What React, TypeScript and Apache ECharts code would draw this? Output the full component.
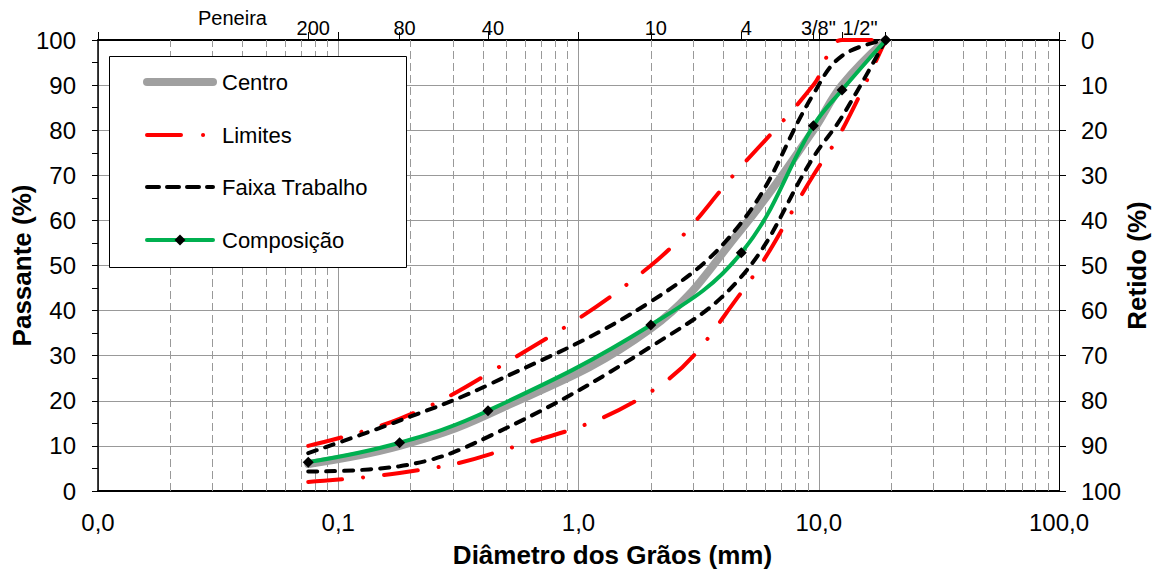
import React, { useEffect, useRef } from 'react';
import * as echarts from 'echarts';

// Sieve openings (mm) and their names on the top axis
const sieveSizes = [0.075, 0.18, 0.42, 2.0, 4.76, 9.5, 12.5, 19.0];
const sieveNames = ['200', '80', '40', '10', '4', '3/8"', '1/2"', ''];

// Passing (%) per sieve
const centro = [6, 10, 17, 36, 58, 80, 90, 100];
const limiteInferior = [2, 4, 8, 22, 44, 70, 80, 100];
const limiteSuperior = [10, 16, 26, 50, 72, 90, 100, 100];
const faixaInferior = [4.3, 5.5, 12, 32, 47.5, 74, 83, 100];
const faixaSuperior = [8.4, 15.6, 23.5, 42, 59.5, 88, 96.5, 100];
const composicao = [6.4, 10.7, 17.8, 36.8, 52.8, 81.0, 88.9, 100];

// Axis tick values
const minorGridValues = [
  0.02, 0.03, 0.04, 0.05, 0.06, 0.07, 0.08, 0.09,
  0.2, 0.3, 0.4, 0.5, 0.6, 0.7, 0.8, 0.9,
  2, 3, 4, 5, 6, 7, 8, 9,
  20, 30, 40, 50, 60, 70, 80, 90,
];
const topTickValues = [0.01, 0.075, 0.1, 0.18, 0.42, 1, 2, 4.76, 9.5, 10, 12.5, 19, 100];
const labeledSieves = sieveSizes.slice(0, 7);
const legendNames = ['Centro', 'Limites', 'Faixa Trabalho', 'Composição'];

const FONT = '"Liberation Sans", Arial, sans-serif';

const pts = (ys: number[]) => sieveSizes.map((x, i) => [x, ys[i]]);

const nearestSieve = (v: number) => {
  let best = 0;
  let bd = Infinity;
  sieveSizes.forEach((s, i) => {
    const d = Math.abs(Math.log10(s) - Math.log10(v));
    if (d < bd) {
      bd = d;
      best = i;
    }
  });
  return best;
};

export default function App() {
  const ref = useRef<HTMLDivElement>(null);

  useEffect(() => {
    if (!ref.current) return;
    const chart = echarts.init(ref.current, undefined, { renderer: 'svg' });

    const red = '#ff0000';
    const redDash = [34, 21, 0.1, 21];
    const blackDash = [9, 9];

    const option: any = {
      animation: false,
      backgroundColor: '#ffffff',
      textStyle: { fontFamily: FONT, color: '#000' },
      grid: { left: 98, right: 100, top: 40, bottom: 80, containLabel: false, outerBoundsMode: 'none' },
      xAxis: [
        {
          type: 'log',
          logBase: 10,
          min: 0.01,
          max: 100,
          position: 'bottom',
          axisLine: { lineStyle: { color: '#000', width: 2 } },
          axisTick: { show: false },
          axisLabel: {
            fontSize: 24,
            fontFamily: FONT,
            color: '#000',
            margin: 19,
            formatter: (v: number) => v.toFixed(1).replace('.', ','),
          },
          splitLine: { show: true, lineStyle: { color: '#999', width: 1, type: 'solid' } },
          name: 'Diâmetro dos Grãos (mm)',
          nameLocation: 'middle',
          nameGap: 51,
          nameMoveOverlap: false,
          nameTextStyle: {
            fontSize: 26,
            fontWeight: 'bold',
            fontFamily: FONT,
            color: '#000',
            padding: [0, 0, 0, 68],
          },
        },
        {
          type: 'log',
          logBase: 10,
          min: 0.01,
          max: 100,
          position: 'top',
          axisLine: { show: true, lineStyle: { color: '#000', width: 2 } },
          axisTick: {
            show: true,
            inside: false,
            length: 8,
            customValues: topTickValues,
            lineStyle: { color: '#000', width: 1 },
          },
          axisLabel: {
            show: true,
            customValues: labeledSieves,
            margin: 2,
            fontSize: 20,
            fontFamily: FONT,
            color: '#000',
            formatter: (v: number) => {
              const i = nearestSieve(v);
              const t = sieveNames[i];
              return i === 6 ? `{h|${t}}` : `{s|${t}}`;
            },
            rich: {
              s: { fontSize: 20, fontFamily: FONT, color: '#000', padding: [0, 0, 0, 10] },
              h: { fontSize: 20, fontFamily: FONT, color: '#000', padding: [0, 0, 0, 36] },
            },
          },
          splitLine: { show: false },
        },
      ],
      yAxis: [
        {
          type: 'value',
          min: 0,
          max: 100,
          interval: 10,
          position: 'left',
          axisLine: { show: true, lineStyle: { color: '#000', width: 1.5 } },
          axisTick: { show: true, inside: false, length: 6, lineStyle: { color: '#000' } },
          minorTick: { show: true, splitNumber: 2, length: 6, lineStyle: { color: '#000' } },
          axisLabel: { fontSize: 24, fontFamily: FONT, color: '#000', margin: 22 },
          splitLine: { show: true, lineStyle: { color: '#999', width: 1, type: 'solid' } },
          name: 'Passante (%)',
          nameLocation: 'middle',
          nameGap: 63,
          nameMoveOverlap: false,
          nameTextStyle: { fontSize: 26, fontWeight: 'bold', fontFamily: FONT, color: '#000' },
        },
        {
          type: 'value',
          min: 0,
          max: 100,
          interval: 10,
          inverse: true,
          position: 'right',
          axisLine: { show: true, lineStyle: { color: '#000', width: 1 } },
          axisTick: { show: true, inside: false, length: 7, lineStyle: { color: '#000' } },
          axisLabel: { fontSize: 24, fontFamily: FONT, color: '#000', margin: 22 },
          splitLine: { show: false },
          name: 'Retido (%)',
          nameLocation: 'middle',
          nameGap: 65,
          nameMoveOverlap: false,
          nameTextStyle: { fontSize: 26, fontWeight: 'bold', fontFamily: FONT, color: '#000' },
        },
      ],
      series: [
        {
          name: 'grade',
          type: 'line',
          data: [],
          z: 1,
          silent: true,
          markLine: {
            silent: true,
            z: 1,
            symbol: ['none', 'none'],
            label: { show: false },
            emphasis: { disabled: true },
            lineStyle: { color: '#999', width: 1, type: [8, 4] },
            data: minorGridValues.map((v) => ({ xAxis: v })),
          },
        },
        {
          name: 'Centro',
          type: 'line',
          data: pts(centro),
          smooth: 0.4,
          showSymbol: false,
          symbol: 'none',
          z: 2,
          lineStyle: { color: '#a0a0a0', width: 8, cap: 'round', join: 'round' },
        },
        {
          name: 'Limites',
          type: 'line',
          data: pts(limiteSuperior),
          smooth: 0.4,
          symbol: 'none',
          z: 3,
          lineStyle: { color: red, width: 4, type: redDash, cap: 'round' },
        },
        {
          name: 'Limites',
          type: 'line',
          data: pts(limiteInferior),
          smooth: 0.4,
          symbol: 'none',
          z: 3,
          lineStyle: { color: red, width: 4, type: redDash, cap: 'round' },
        },
        {
          name: 'Faixa Trabalho',
          type: 'line',
          data: pts(faixaSuperior),
          smooth: 0.4,
          symbol: 'none',
          z: 4,
          lineStyle: { color: '#000', width: 4, type: blackDash, cap: 'round' },
        },
        {
          name: 'Faixa Trabalho',
          type: 'line',
          data: pts(faixaInferior),
          smooth: 0.4,
          symbol: 'none',
          z: 4,
          lineStyle: { color: '#000', width: 4, type: blackDash, cap: 'round' },
        },
        {
          name: 'Composição',
          type: 'line',
          data: pts(composicao),
          smooth: 0.4,
          symbol: 'diamond',
          symbolSize: 11,
          showSymbol: true,
          z: 5,
          itemStyle: { color: '#000' },
          lineStyle: { color: '#00b050', width: 4, cap: 'round', join: 'round' },
        },
      ],
      graphic: [
        {
          type: 'text',
          x: 198,
          y: 18,
          z: 100,
          style: { text: 'Peneira', fontSize: 20, fontFamily: FONT, fill: '#000', verticalAlign: 'middle' },
        },
        {
          type: 'rect',
          z: 100,
          shape: { x: 109.5, y: 56.5, width: 297, height: 211 },
          style: { fill: '#fff', stroke: '#000', lineWidth: 1 },
        },
        {
          type: 'line',
          z: 101,
          shape: { x1: 147, y1: 82, x2: 213, y2: 82 },
          style: { stroke: '#a0a0a0', lineWidth: 8, lineCap: 'round' },
        },
        {
          type: 'line',
          z: 101,
          shape: { x1: 147, y1: 135, x2: 205, y2: 135 },
          style: { stroke: red, lineWidth: 4, lineCap: 'round', lineDash: [34, 22, 0.1, 30] },
        },
        {
          type: 'line',
          z: 101,
          shape: { x1: 147, y1: 187, x2: 213, y2: 187 },
          style: { stroke: '#000', lineWidth: 4, lineCap: 'round', lineDash: [12, 8] },
        },
        {
          type: 'line',
          z: 101,
          shape: { x1: 147, y1: 240, x2: 213, y2: 240 },
          style: { stroke: '#00b050', lineWidth: 4, lineCap: 'round' },
        },
        {
          type: 'polygon',
          z: 102,
          shape: { points: [[180, 234.5], [185.5, 240], [180, 245.5], [174.5, 240]] },
          style: { fill: '#000' },
        },
        ...legendNames.map((t, i) => ({
          type: 'text',
          z: 101,
          x: 222,
          y: [82, 135, 187, 240][i],
          style: { text: t, fontSize: 22, fontFamily: FONT, fill: '#000', verticalAlign: 'middle' },
        })),
      ],
    };

    chart.setOption(option);
    return () => {
      chart.dispose();
    };
  }, []);

  return (
    <div
      ref={ref}
      style={{ position: 'fixed', left: 0, top: 0, width: 1159, height: 571, background: '#fff' }}
    />
  );
}
